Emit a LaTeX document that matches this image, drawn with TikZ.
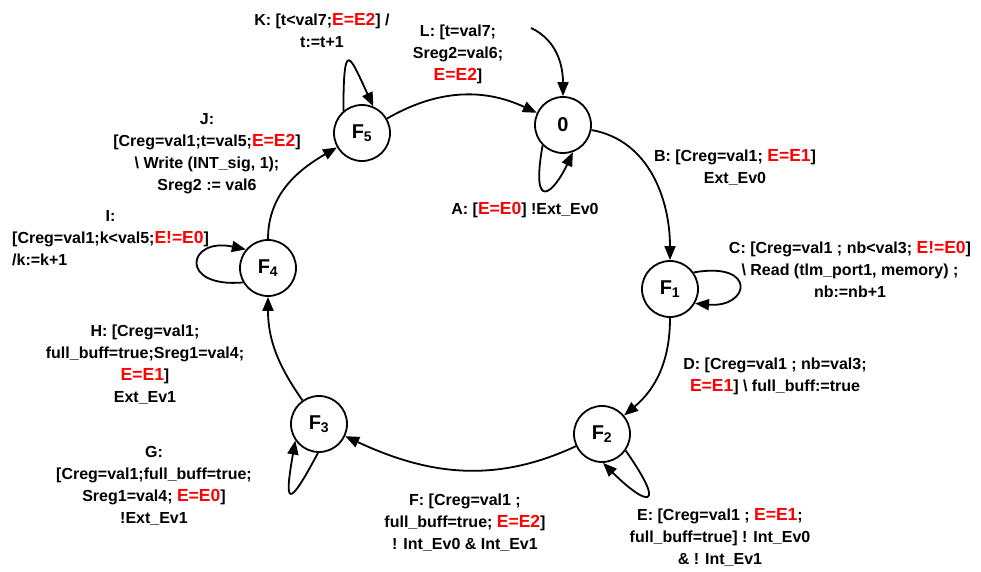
\documentclass[tikz,border=0pt]{standalone}
\usepackage{fontspec}
\setmainfont{Liberation Sans}
\usetikzlibrary{arrows.meta}
\newcommand\rd[1]{{\color{red}\fontsize{17.5}{22}\selectfont #1}}
\begin{document}
\begin{tikzpicture}[x=1pt,y=1pt,
  st/.style={circle,draw,line width=1.8pt,minimum size=56pt,inner sep=0pt,font=\bfseries\fontsize{20}{22}\selectfont},
  tr/.style={line width=1.8pt,-{Triangle[length=14pt,width=11pt]}},
  lbl/.style={align=center,inner sep=0pt,font=\bfseries\fontsize{16}{22}\selectfont}]
\useasboundingbox (0,0) rectangle (981,-572);
\node[st] (s0) at (563,-125) {0};
\node[st] (s1) at (670,-289) {F\textsubscript{1}};
\node[st] (s2) at (602,-434) {F\textsubscript{2}};
\node[st] (s3) at (319,-424) {F\textsubscript{3}};
\node[st] (s4) at (268,-268) {F\textsubscript{4}};
\node[st] (s5) at (362,-133) {F\textsubscript{5}};
\coordinate (init) at (531,-28);
% transitions
\draw[tr] (init) to[out=-25,in=90] (s0);
\draw[tr] (s5) to[out=30,in=155] (s0);
\draw[tr] (s0) to[out=-10,in=90] (s1);
\draw[tr] (s1) to[out=-90,in=40] (s2);
\draw[tr] (s2) to[out=-155,in=-25] (s3);
\draw[tr] (s3) to[out=125,in=-90] (s4);
\draw[tr] (s4) to[out=90,in=-150] (s5);
% self loops
\draw[tr] (s0.-135) .. controls +(-100:70) and +(-115:45) .. (s0.-70);
\draw[tr] (s1.35) .. controls +(10:65) and +(-5:55) .. (s1.-30);
\draw[tr] (s2.-35) .. controls +(-55:75) and +(-45:60) .. (s2.-88);
\draw[tr] (s3.-92) .. controls +(-118:65) and +(-100:65) .. (s3.-145);
\draw[tr] (s4.-150) .. controls +(185:65) and +(168:60) .. (s4.140);
\draw[tr] (s5.130) .. controls +(90:75) and +(115:55) .. (s5.67);
% labels
\node[lbl] (lK) at (322,-30) {K: [t<val7;\rd{E=E2}] /\\ t:=t+1};
\node[lbl] (lL) at (458,-54) {L: [t=val7;\\ Sreg2=val6;\\ \rd{E=E2}]};
\node[lbl] (lJ) at (207,-154) {J:\\ {[}Creg=val1;t=val5;\rd{E=E2}]\\ \textbackslash{} Write (INT\_sig, 1);\\ Sreg2 := val6};
\node[lbl,anchor=west] (lI) at (12,-239) {\begin{tabular}{@{}l@{}}\multicolumn{1}{@{}c@{}}{I:}\\ {[}Creg=val1;k<val5;\rd{E!=E0}]\\ /k:=k+1\end{tabular}};
\node[lbl] (lH) at (145,-365) {H: [Creg=val1;\\ full\_buff=true;Sreg1=val4;\\ \rd{E=E1}]\\ Ext\_Ev1};
\node[lbl] (lG) at (154,-486) {G:\\ {[}Creg=val1;full\_buff=true;\\ Sreg1=val4; \rd{E=E0}]\\ !Ext\_Ev1};
\node[lbl] (lF) at (465,-523) {F: [Creg=val1 ;\\ full\_buff=true; \rd{E=E2}]\\ ! Int\_Ev0 \& Int\_Ev1};
\node[lbl] (lE) at (720,-537) {E: [Creg=val1 ; \rd{E=E1};\\ full\_buff=true] ! Int\_Ev0\\ \& ! Int\_Ev1};
\node[lbl] (lD) at (775,-376) {D: [Creg=val1 ; nb=val3;\\ \rd{E=E1}] \textbackslash{} full\_buff:=true};
\node[lbl] (lC) at (850,-269) {C: [Creg=val1 ; nb<val3; \rd{E!=E0}]\\ \textbackslash{} Read (tlm\_port1, memory) ;\\ nb:=nb+1};
\node[lbl] (lB) at (735,-167) {B: [Creg=val1; \rd{E=E1}]\\ Ext\_Ev0};
\node[lbl] (lA) at (525,-210) {A: [\rd{E=E0}] !Ext\_Ev0};
\end{tikzpicture}
\end{document}
